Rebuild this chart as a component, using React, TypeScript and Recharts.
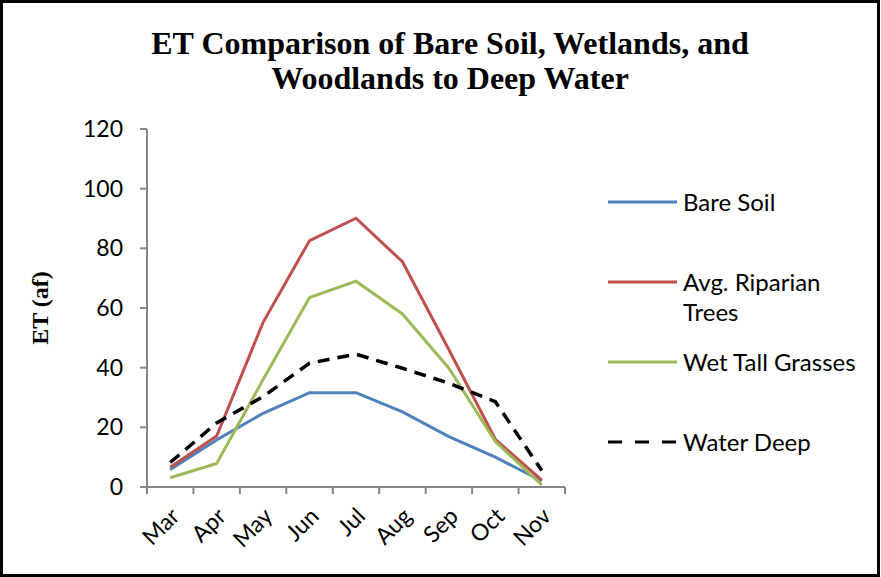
import React from 'react';
import { LineChart, Line, XAxis, YAxis, Legend } from 'recharts';

// ET comparison chart - Excel style line chart

const months = ['Mar', 'Apr', 'May', 'Jun', 'Jul', 'Aug', 'Sep', 'Oct', 'Nov'];
const bareSoil = [5.9, 15.8, 24.7, 31.6, 31.6, 25.2, 16.9, 10, 2];
const riparianTrees = [6.6, 17.1, 55.2, 82.6, 90.1, 75.5, 46, 16, 2.3];
const wetTallGrasses = [3.1, 7.9, 36, 63.5, 69, 58, 39.8, 15.2, 0.7];
const waterDeep = [8.2, 21.5, 30.3, 41.5, 44.5, 39.8, 34.8, 28.6, 5.5];
const yTicks = [0, 20, 40, 60, 80, 100, 120];
const seriesOrder = ['bare', 'riparian', 'grasses', 'water'];

const data = months.map((m, i) => ({
  month: m,
  bare: bareSoil[i],
  riparian: riparianTrees[i],
  grasses: wetTallGrasses[i],
  water: waterDeep[i],
}));

const W = 881;
const H = 577;
const PLOT_LEFT = 147;
const PLOT_RIGHT = 565;
const PLOT_TOP = 129;
const PLOT_BOTTOM = 487;
const X_AXIS_H = 60;
const Y_AXIS_W = 60;
const BAND = (PLOT_RIGHT - PLOT_LEFT) / months.length;

const axisGray = '#868686';
const labelFont = 'Lato, "Open Sans", sans-serif';

function MonthTick(props: any) {
  const { x, y, payload, index } = props;
  const left = x - BAND / 2;
  const isLast = index === months.length - 1;
  return (
    <g>
      <line x1={left} y1={y} x2={left} y2={y + 7} stroke={axisGray} strokeWidth={2} />
      {isLast && (
        <line x1={x + BAND / 2} y1={y} x2={x + BAND / 2} y2={y + 7} stroke={axisGray} strokeWidth={2} />
      )}
      <text
        transform={`translate(${x - 1},${y + 19}) rotate(-45)`}
        textAnchor="end"
        dy="0.72em"
        fontSize={23}
        fontFamily={labelFont}
        fill="#000"
      >
        {payload.value}
      </text>
    </g>
  );
}

function LegendContent(props: any) {
  const items = [...(props.payload || [])].sort(
    (a: any, b: any) => seriesOrder.indexOf(a.dataKey) - seriesOrder.indexOf(b.dataKey)
  );
  return (
    <div style={{ fontFamily: labelFont, fontSize: 24, color: '#000' }}>
      {items.map((entry: any) => {
        const dashed = entry.dataKey === 'water';
        return (
          <div key={entry.value} style={{ display: 'flex', alignItems: 'flex-start', height: 80 }}>
            <svg width={77} height={30} style={{ flex: 'none' }}>
              <line
                x1={2}
                y1={15}
                x2={71}
                y2={15}
                stroke={entry.color}
                strokeWidth={3}
                strokeDasharray={dashed ? '14 13' : undefined}
              />
            </svg>
            <div style={{ width: 188, lineHeight: '30px' }}>{entry.value}</div>
          </div>
        );
      })}
    </div>
  );
}

export default function App() {
  return (
    <div style={{ position: 'absolute', left: 0, top: 0, width: W, height: H, background: '#fff' }}>
      <div
        style={{
          position: 'absolute',
          left: 0,
          top: 0,
          width: 880,
          height: 577,
          boxSizing: 'border-box',
          border: '3px solid #000',
          pointerEvents: 'none',
        }}
      />
      <div
        style={{
          position: 'absolute',
          left: 0,
          top: 26,
          width: 900,
          textAlign: 'center',
          fontFamily: '"Liberation Serif", "Times New Roman", serif',
          fontWeight: 'bold',
          fontSize: 32,
          lineHeight: '35px',
          color: '#000',
        }}
      >
        ET Comparison of Bare Soil, Wetlands, and
        <br />
        Woodlands to Deep Water
      </div>
      <div
        style={{
          position: 'absolute',
          left: 40,
          top: 308,
          transform: 'translate(-50%, -50%) rotate(-90deg)',
          whiteSpace: 'nowrap',
          fontFamily: '"Liberation Serif", "Times New Roman", serif',
          fontWeight: 'bold',
          fontSize: 24,
          color: '#000',
        }}
      >
        ET (af)
      </div>
      <div style={{ position: 'absolute', left: 0, top: 0 }}>
        <LineChart
          width={W}
          height={H}
          data={data}
          margin={{
            top: PLOT_TOP,
            right: W - PLOT_RIGHT,
            bottom: H - PLOT_BOTTOM - X_AXIS_H,
            left: PLOT_LEFT - Y_AXIS_W,
          }}
        >
          <XAxis
            dataKey="month"
            scale="band"
            height={X_AXIS_H}
            axisLine={{ stroke: axisGray, strokeWidth: 2 }}
            tickLine={false}
            tickSize={0}
            tickMargin={0}
            interval={0}
            tick={<MonthTick />}
          />
          <YAxis
            width={Y_AXIS_W}
            domain={[0, 120]}
            ticks={yTicks}
            interval={0}
            axisLine={{ stroke: axisGray, strokeWidth: 2 }}
            tickLine={{ stroke: axisGray, strokeWidth: 2 }}
            tickSize={7}
            tickMargin={17}
            tick={{ fontSize: 23, fontFamily: labelFont, fill: '#000' }}
          />
          <Legend
            layout="vertical"
            align="center"
            verticalAlign="middle"
            wrapperStyle={{ position: 'absolute', left: 606, top: 187, width: 275 }}
            content={<LegendContent />}
          />
          <Line
            type="linear"
            dataKey="bare"
            name="Bare Soil"
            stroke="#4F81BD"
            strokeWidth={3}
            dot={false}
            isAnimationActive={false}
          />
          <Line
            type="linear"
            dataKey="riparian"
            name="Avg. Riparian Trees"
            stroke="#C0504D"
            strokeWidth={3}
            dot={false}
            isAnimationActive={false}
          />
          <Line
            type="linear"
            dataKey="grasses"
            name="Wet Tall Grasses"
            stroke="#9BBB59"
            strokeWidth={3}
            dot={false}
            isAnimationActive={false}
          />
          <Line
            type="linear"
            dataKey="water"
            name="Water Deep"
            stroke="#000000"
            strokeWidth={3.5}
            strokeDasharray="12 8"
            dot={false}
            isAnimationActive={false}
          />
        </LineChart>
      </div>
    </div>
  );
}
